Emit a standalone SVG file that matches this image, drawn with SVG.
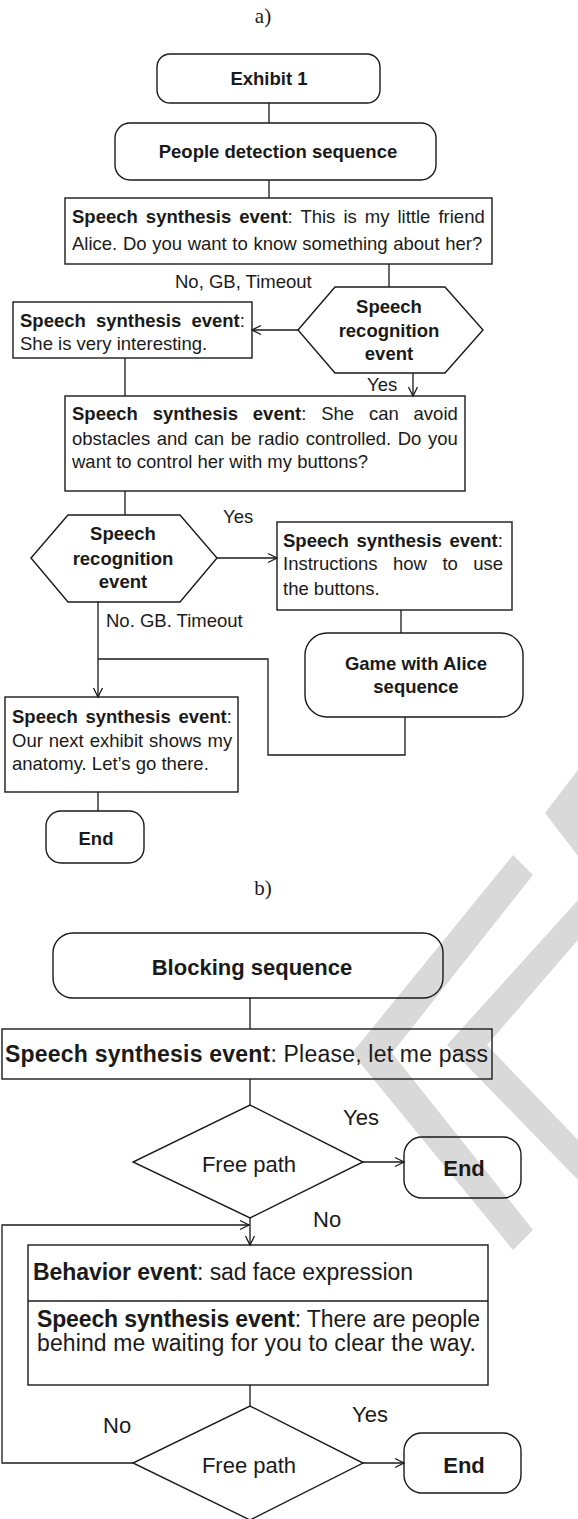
<svg xmlns="http://www.w3.org/2000/svg" width="578" height="1519" viewBox="0 0 578 1519">
<style>
.t{font-family:"Liberation Sans",Arial,sans-serif;font-size:18.5px;fill:#1a1a1a}
.t2{font-family:"Liberation Sans",Arial,sans-serif;font-size:22px;fill:#1a1a1a}
.t3{font-family:"Liberation Sans",Arial,sans-serif;font-size:23px;fill:#1a1a1a}
.b{font-weight:bold}
.c{text-anchor:middle}
.cap{font-family:"Liberation Serif","Times New Roman",serif;font-size:21px;fill:#1a1a1a;text-anchor:middle}
.box{fill:none;stroke:#1a1a1a;stroke-width:1.4}
.ln{fill:none;stroke:#1a1a1a;stroke-width:1.3}
.wm{fill:#d9d9d9}
</style>
<defs>
<marker id="arr" markerUnits="userSpaceOnUse" markerWidth="12" markerHeight="12" refX="10" refY="6" orient="auto">
<path d="M1,1.5 L10,6 L1,10.5" fill="none" stroke="#1a1a1a" stroke-width="1.3"/>
</marker>
</defs>
<rect width="578" height="1519" fill="#fff"/>

<g id="watermark">
<polygon class="wm" points="545,813 578,770 578,856"/>
<polygon class="wm" points="513,855 352,1053 513,1250 533,1230 392,1053 533,875"/>
<polygon class="wm" points="578,900 447,1045 578,1180 578,1140 487,1045 578,940"/>
</g>

<text class="cap" x="263" y="23">a)</text>
<text class="cap" x="263" y="895">b)</text>

<g id="connectors">
<path class="ln" d="M269,103 V123"/>
<path class="ln" d="M269,180 V198"/>
<path class="ln" d="M389,264 V287"/>
<path class="ln" d="M298,330 H252" marker-end="url(#arr)"/>
<path class="ln" d="M125,358 V396"/>
<path class="ln" d="M413,373 V396" marker-end="url(#arr)"/>
<path class="ln" d="M125,491 V515"/>
<path class="ln" d="M217,558 H277" marker-end="url(#arr)"/>
<path class="ln" d="M98,602 V697" marker-end="url(#arr)"/>
<path class="ln" d="M401,610 V633"/>
<path class="ln" d="M405,717 V755 H268 V659 H98"/>
<path class="ln" d="M98,792 V811"/>
<path class="ln" d="M250,998 V1029"/>
<path class="ln" d="M250,1079 V1105"/>
<path class="ln" d="M363,1162 H404" marker-end="url(#arr)"/>
<path class="ln" d="M250,1218 V1245" marker-end="url(#arr)"/>
<path class="ln" d="M133,1463 H2 V1225 H249" marker-end="url(#arr)"/>
<path class="ln" d="M250,1385 V1406"/>
<path class="ln" d="M363,1463 H404" marker-end="url(#arr)"/>
</g>

<g id="exhibit1">
<rect class="box" x="157" y="54" width="223" height="49" rx="13"/>
<text class="t b c" x="269" y="85">Exhibit 1</text>
</g>
<g id="people-detection">
<rect class="box" x="115" y="123" width="321" height="57" rx="15"/>
<text class="t b c" x="278" y="158">People detection sequence</text>
</g>
<g id="synth1">
<rect class="box" x="65" y="198" width="427" height="66"/>
<text class="t" x="72" y="223" word-spacing="2.9"><tspan class="b">Speech synthesis event</tspan>: This is my little friend</text>
<text class="t" x="72" y="250" word-spacing="0.5">Alice. Do you want to know something about her?</text>
</g>
<text class="t" x="175" y="288">No, GB, Timeout</text>
<g id="recog1">
<polygon class="box" points="298,330 335,287 445,287 483,330 445,373 335,373"/>
<text class="t b c" x="389" y="313">Speech</text>
<text class="t b c" x="389" y="337">recognition</text>
<text class="t b c" x="389" y="360">event</text>
</g>
<g id="synth2">
<rect class="box" x="13" y="302" width="239" height="56"/>
<text class="t" x="20" y="327" word-spacing="5"><tspan class="b">Speech synthesis event</tspan>:</text>
<text class="t" x="20" y="350">She is very interesting.</text>
</g>
<text class="t" x="367" y="391">Yes</text>
<g id="synth3">
<rect class="box" x="65" y="396" width="400" height="95"/>
<text class="t" x="72" y="420" word-spacing="9.7"><tspan class="b">Speech synthesis event</tspan>: She can avoid</text>
<text class="t" x="72" y="445" word-spacing="1.5">obstacles and can be radio controlled. Do you</text>
<text class="t" x="72" y="468">want to control her with my buttons?</text>
</g>
<g id="recog2">
<polygon class="box" points="31,558 68,515 180,515 217,558 180,602 68,602"/>
<text class="t b c" x="123" y="540">Speech</text>
<text class="t b c" x="123" y="565">recognition</text>
<text class="t b c" x="123" y="588">event</text>
</g>
<text class="t" x="223" y="523">Yes</text>
<g id="synth4">
<rect class="box" x="277" y="522" width="235" height="88"/>
<text class="t" x="283" y="547" word-spacing="2.5"><tspan class="b">Speech synthesis event</tspan>:</text>
<text class="t" x="283" y="570" word-spacing="10.3">Instructions how to use</text>
<text class="t" x="283" y="595">the buttons.</text>
</g>
<text class="t" x="106" y="627">No. GB. Timeout</text>
<g id="game">
<rect class="box" x="305" y="633" width="218" height="84" rx="22"/>
<text class="t b c" x="416" y="670">Game with Alice</text>
<text class="t b c" x="416" y="693">sequence</text>
</g>
<g id="synth5">
<rect class="box" x="5" y="697" width="233" height="95"/>
<text class="t" x="12" y="723" word-spacing="2.5"><tspan class="b">Speech synthesis event</tspan>:</text>
<text class="t" x="12" y="747" word-spacing="0.8">Our next exhibit shows my</text>
<text class="t" x="12" y="770">anatomy. Let’s go there.</text>
</g>
<g id="end1">
<rect class="box" x="46" y="811" width="98" height="52" rx="15"/>
<text class="t b c" x="96" y="845">End</text>
</g>

<g id="blocking">
<rect class="box" x="53" y="933" width="390" height="65" rx="20"/>
<text class="t2 b c" x="252" y="975">Blocking sequence</text>
</g>
<g id="please">
<rect class="box" x="2" y="1029" width="490" height="50"/>
<text class="t3" x="5" y="1062" textLength="483" lengthAdjust="spacing"><tspan class="b">Speech synthesis event</tspan>: Please, let me pass</text>
</g>
<g id="free1">
<polygon class="box" points="250,1105 363,1162 250,1218 133,1162"/>
<text class="t2 c" x="249" y="1172">Free path</text>
</g>
<text class="t2" x="343" y="1125">Yes</text>
<g id="end2">
<rect class="box" x="404" y="1137" width="117" height="61" rx="18"/>
<text class="t2 b c" x="464" y="1176">End</text>
</g>
<text class="t2" x="313" y="1227">No</text>
<g id="behavior">
<rect class="box" x="28" y="1245" width="460" height="140"/>
<line class="box" x1="28" y1="1301" x2="488" y2="1301"/>
<text class="t3" x="33" y="1280" textLength="380" lengthAdjust="spacing"><tspan class="b">Behavior event</tspan>: sad face expression</text>
<text class="t3" x="37" y="1327" textLength="443" lengthAdjust="spacing"><tspan class="b">Speech synthesis event</tspan>: There are people</text>
<text class="t3" x="37" y="1351" textLength="439" lengthAdjust="spacing">behind me waiting for you to clear the way.</text>
</g>
<g id="free2">
<polygon class="box" points="250,1406 363,1463 250,1520 133,1463"/>
<text class="t2 c" x="249" y="1473">Free path</text>
</g>
<text class="t2" x="103" y="1433">No</text>
<text class="t2" x="352" y="1422">Yes</text>
<g id="end3">
<rect class="box" x="404" y="1433" width="117" height="60" rx="18"/>
<text class="t2 b c" x="464" y="1473">End</text>
</g>
</svg>
